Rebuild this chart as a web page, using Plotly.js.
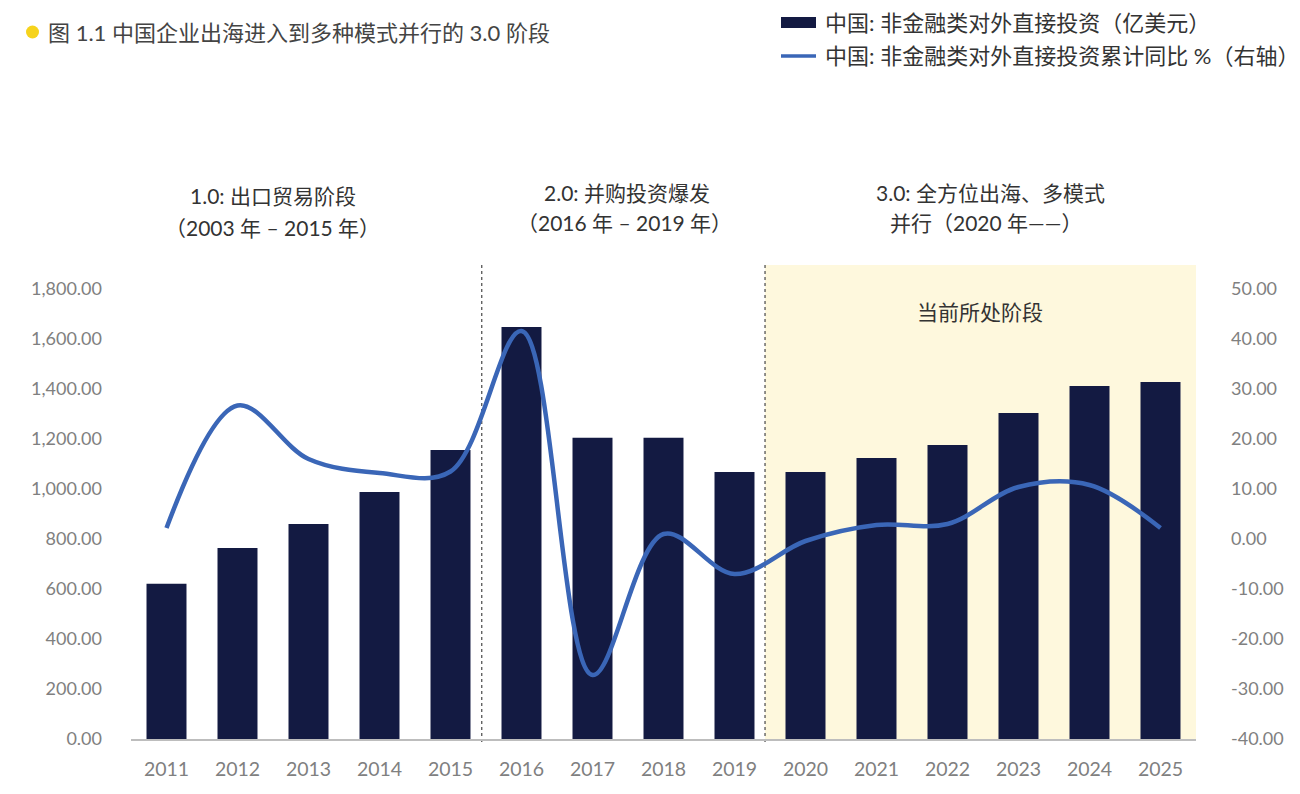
<!DOCTYPE html>
<html>
<head>
<meta charset="utf-8">
<script src="https://cdn.plot.ly/plotly-3.0.1.min.js"></script>
<style>
  html, body { margin: 0; padding: 0; background: #ffffff; }
  #chart { width: 1300px; height: 794px; }
</style>
</head>
<body>
<div id="chart"></div>
<script>
// ---- data ----
const years = ['2011','2012','2013','2014','2015','2016','2017','2018','2019','2020','2021','2022','2023','2024','2025'];
const fdiValues = [621, 764, 860, 988, 1156, 1648, 1205, 1205, 1068, 1068, 1124, 1176, 1304, 1412, 1428];
const yoyValues = [2.2, 26.7, 16.0, 13.2, 13.5, 41.6, -27.2, 1.0, -7.0, -0.4, 2.8, 3.0, 10.4, 10.8, 2.2];
const leftTickVals = [0, 200, 400, 600, 800, 1000, 1200, 1400, 1600, 1800];
const rightTickVals = [-40, -30, -20, -10, 0, 10, 20, 30, 40, 50];
const seriesNames = ['中国: 非金融类对外直接投资（亿美元）', '中国: 非金融类对外直接投资累计同比 %（右轴）'];
const chartTitle = '图 1.1 中国企业出海进入到多种模式并行的 3.0 阶段';
const stageLabels = [
  {line1: '1.0: 出口贸易阶段', line2: '（2003 年 – 2015 年）'},
  {line1: '2.0: 并购投资爆发', line2: '（2016 年 – 2019 年）'},
  {line1: '3.0: 全方位出海、多模式', line2: '并行（2020 年——）'}
];
const currentStageLabel = '当前所处阶段';

// ---- layout helpers (pixel -> paper) ----
const W = 1300, H = 794;
const PL = 131, PR = 1196, PT = 289, PB = 739;
const px = v => (v - PL) / (PR - PL);
const py = v => (PB - v) / (PB - PT);

const FONT = 'Lato, "Noto Sans CJK SC", "Noto Sans", sans-serif';
const NAVY = '#131A42';
const BLUE = '#3A66B7';
const GRAY = '#808080';

const leftTickText = leftTickVals.map(v => v.toLocaleString('en-US', {minimumFractionDigits: 2, maximumFractionDigits: 2}));
const rightTickText = rightTickVals.map(v => v.toFixed(2));

const traces = [
  {
    type: 'bar', x: years, y: fdiValues, name: seriesNames[0],
    marker: {color: NAVY}, hoverinfo: 'x+y'
  },
  {
    type: 'scatter', mode: 'lines', x: years, y: yoyValues, name: seriesNames[1],
    yaxis: 'y2', line: {color: BLUE, width: 4.5, shape: 'spline', smoothing: 1}
  }
];

const annFont = {family: FONT, size: 21, color: '#333'};
const annotations = [
  {text: chartTitle, xref: 'paper', yref: 'paper', x: px(46), y: py(32), xanchor: 'left', yanchor: 'middle',
   showarrow: false, font: {family: FONT, size: 22, color: '#444'}},
  {text: seriesNames[0], xref: 'paper', yref: 'paper', x: px(823), y: py(22), xanchor: 'left', yanchor: 'middle',
   showarrow: false, font: {family: FONT, size: 22, color: '#333'}},
  {text: seriesNames[1], xref: 'paper', yref: 'paper', x: px(823), y: py(55), xanchor: 'left', yanchor: 'middle',
   showarrow: false, font: {family: FONT, size: 22, color: '#333'}},
  {text: stageLabels[0].line1, xref: 'paper', yref: 'paper', x: px(273), y: py(195), xanchor: 'center', yanchor: 'middle', showarrow: false, font: annFont},
  {text: stageLabels[0].line2, xref: 'paper', yref: 'paper', x: px(272), y: py(227), xanchor: 'center', yanchor: 'middle', showarrow: false, font: annFont},
  {text: stageLabels[1].line1, xref: 'paper', yref: 'paper', x: px(627), y: py(192), xanchor: 'center', yanchor: 'middle', showarrow: false, font: annFont},
  {text: stageLabels[1].line2, xref: 'paper', yref: 'paper', x: px(624), y: py(222), xanchor: 'center', yanchor: 'middle', showarrow: false, font: annFont},
  {text: stageLabels[2].line1, xref: 'paper', yref: 'paper', x: px(990), y: py(192), xanchor: 'center', yanchor: 'middle', showarrow: false, font: annFont},
  {text: stageLabels[2].line2, xref: 'paper', yref: 'paper', x: px(986), y: py(222), xanchor: 'center', yanchor: 'middle', showarrow: false, font: annFont},
  {text: currentStageLabel, xref: 'paper', yref: 'paper', x: px(980), y: py(311), xanchor: 'center', yanchor: 'middle', showarrow: false, font: annFont}
];

const shapes = [
  // current stage shaded region
  {type: 'rect', xref: 'x', yref: 'paper', x0: 8.43, x1: 14.5, y0: py(741), y1: py(265),
   fillcolor: '#FEF8DD', line: {width: 0}, layer: 'below'},
  // stage separators
  {type: 'line', xref: 'x', yref: 'paper', x0: 4.44, x1: 4.44, y0: py(742), y1: py(264),
   line: {color: '#555', width: 1.3, dash: 'dot'}, layer: 'below'},
  {type: 'line', xref: 'x', yref: 'paper', x0: 8.43, x1: 8.43, y0: py(742), y1: py(264),
   line: {color: '#555', width: 1.3, dash: 'dot'}, layer: 'below'},
  // title dot
  {type: 'circle', xref: 'paper', yref: 'paper', x0: px(26), x1: px(39), y0: py(38.5), y1: py(25.5),
   fillcolor: '#F6D31C', line: {width: 0}},
  // legend swatches
  {type: 'rect', xref: 'paper', yref: 'paper', x0: px(781), x1: px(816), y0: py(28), y1: py(17),
   fillcolor: NAVY, line: {width: 0}},
  {type: 'line', xref: 'paper', yref: 'paper', x0: px(781), x1: px(816), y0: py(56), y1: py(56),
   line: {color: BLUE, width: 3.5}}
];

const layout = {
  width: W, height: H,
  margin: {l: PL, r: W - PR, t: PT, b: H - PB, pad: 0},
  paper_bgcolor: '#ffffff', plot_bgcolor: 'rgba(0,0,0,0)',
  showlegend: false,
  bargap: 0.437,
  font: {family: FONT, color: GRAY},
  xaxis: {
    type: 'category', range: [-0.5, 14.5],
    showline: true, linecolor: '#bdbdbd', linewidth: 1.5,
    showgrid: false, zeroline: false, ticks: '',
    ticklabelstandoff: 12,
    tickfont: {family: FONT, size: 19.5, color: GRAY}
  },
  yaxis: {
    range: [0, 1800], tickvals: leftTickVals, ticktext: leftTickText,
    showgrid: false, zeroline: false, showline: false, ticks: '',
    ticklabelstandoff: 28,
    tickfont: {family: FONT, size: 18, color: GRAY}
  },
  yaxis2: {
    overlaying: 'y', side: 'right',
    range: [-40, 50], tickvals: rightTickVals, ticktext: rightTickText,
    showgrid: false, zeroline: false, showline: false, ticks: '',
    ticklabelstandoff: 34,
    tickfont: {family: FONT, size: 18, color: GRAY}
  },
  annotations: annotations,
  shapes: shapes
};

Plotly.newPlot('chart', traces, layout, {displayModeBar: false, staticPlot: true});
</script>
</body>
</html>
